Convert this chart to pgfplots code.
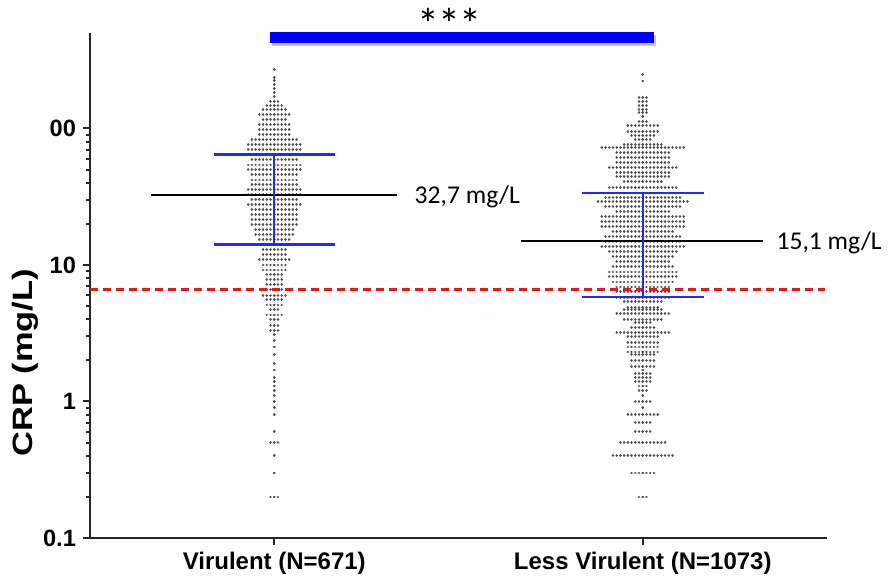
\documentclass[border=0pt]{standalone}
\usepackage{pgfplots}
\pgfplotsset{compat=1.18}
\usepackage{pgfplotstable}
\usepackage{fontspec}
\setmainfont{Carlito}
\setsansfont{Liberation Sans}
\usepackage{graphicx}
\definecolor{dotc}{gray}{0.3}
\definecolor{iqr}{rgb}{0.15,0.15,1}
\definecolor{redl}{rgb}{0.9,0.1,0.1}

% CRP swarm rows: value (mg/L) and half-width of the row (in px of the original)
\pgfplotstableread{
v hw
270 1.9
236 0.3
225 1.9
210 1.9
196 0.3
183 1.9
171 1.9
158 3.75
147 9
138 13
126 15
116 14
107 15
98 16
90 15
83 25
76 28
70 27
64 30
59 25
54 27
50 28
46 26
42 25
39 25
35.6 27
32.7 27
30.1 25
27.7 27
25.4 24
23.4 26
21.5 24
19.7 25
18.1 22
16.7 21
15.3 18
14.1 18
12.9 14
11.9 13
10.9 16
10.0 14
9.2 13
8.5 11
7.8 11
7.2 9
6.6 10
6.0 12
5.6 10
5.1 8
4.7 7
4.3 9
4.0 6
3.6 5
3.3 3.75
3.1 1.9
2.8 0.3
2.5 1.9
2.2 1.9
1.9 1.9
1.7 1.9
1.5 0.3
1.4 1.9
1.3 0.3
1.2 0.3
1.1 1.9
1.0 0.3
0.9 0.3
0.8 0.3
0.6 1.9
0.5 3.75
0.4 1.9
0.3 0.3
0.2 3.75
}\virulent

\pgfplotstableread{
v hw
249 1.9
222 0.3
169 3.75
158 3.75
147 7
138 6
131 5
122 1.9
112 3.75
105 16
95 17
88.7 12
83 11
76 20
72.4 42
66.6 28
61.2 29
56.2 28
51.7 37
47.5 27
44.4 27
40.8 20
36.8 37
33.7 25
31.1 38
29.1 46
26.7 40
24.6 27
22.6 41
20.7 44
19.1 41
17.5 33
16.1 38
14.8 40
13.6 42
12.5 35
11.5 30
10.6 27
9.7 32
8.9 35
8.2 37
7.5 30
6.9 27
6.4 27
5.8 27
5.37 20
4.9 17
4.7 19
4.4 28
4.0 22
3.8 11
3.5 12
3.2 29
3.0 15
2.7 17
2.5 17
2.3 17
2.2 14
2.0 13
1.8 12
1.7 1.9
1.6 7.45
1.5 7.45
1.4 7.45
1.3 5.6
1.2 5.6
1.1 1.9
1.0 11.15
0.9 1.9
0.8 16.7
0.7 9.3
0.6 9.3
0.5 25.95
0.4 33.35
0.3 13.0
0.2 5.6
}\lessvirulent

\begin{document}
\begin{tikzpicture}
\begin{axis}[
  scale only axis, width=368.5pt, height=252.5pt,
  ymode=log, ymin=0.1, ymax=500,
  xmin=0.5, xmax=2.5,
  axis x line=bottom, axis y line=left,
  axis line style={-, line width=1.3pt, black!85},
  xtick={1,2}, xticklabels={Virulent (N=671), Less Virulent (N=1073)},
  ytick={0.1,1,10,100}, yticklabels={0.1,1,10,00},
  tick align=outside,
  major tick length=3.5pt, minor tick length=2pt,
  every tick/.style={black!85, line width=1pt},
  x tick label style={font=\sffamily\bfseries\fontsize{12}{14}\selectfont},
  y tick label style={font=\sffamily\bfseries\fontsize{11.8}{13}\selectfont},
  ylabel={\scalebox{1.23}[1]{CRP (mg/L)}},
  every axis y label/.style={at={(axis description cs:-0.088,0.347)}, rotate=90, anchor=center, font=\sffamily\bfseries\fontsize{14}{16}\selectfont},
  clip=false,
]
\coordinate (sw) at (rel axis cs:0,0);
\coordinate (ne) at (rel axis cs:1,1);

% beeswarm rows
\addplot[draw=none, mark=none, forget plot,
  error bars/.cd, x dir=both, x explicit, error mark=none,
  error bar style={draw=dotc, line width=1.35pt, line cap=round, dash pattern=on 0.01pt off 1.85pt}]
  table[x expr=1, y=v, x error expr=\thisrow{hw}/368.5] {\virulent};
\addplot[draw=none, mark=none, forget plot,
  error bars/.cd, x dir=both, x explicit, error mark=none,
  error bar style={draw=dotc, line width=1.35pt, line cap=round, dash pattern=on 0.01pt off 1.85pt}]
  table[x expr=2, y=v, x error expr=\thisrow{hw}/368.5] {\lessvirulent};

% threshold
\addplot[redl, line width=1.2pt, dash pattern=on 4pt off 2.5pt] coordinates {(0.5,6.6) (2.495,6.6)};

% medians and IQR
\addplot[black, line width=1pt] coordinates {(0.666,32.7) (1.334,32.7)};
\addplot[iqr, line width=1.2pt] coordinates {(0.836,64.3) (1.164,64.3)};
\addplot[iqr, line width=1.2pt] coordinates {(0.836,14.1) (1.164,14.1)};
\addplot[iqr, line width=1.2pt] coordinates {(1,14.1) (1,64.3)};

\addplot[black, line width=1pt] coordinates {(1.670,15.1) (2.326,15.1)};
\addplot[iqr, line width=1.2pt] coordinates {(1.8345,33.7) (2.1655,33.7)};
\addplot[iqr, line width=1.2pt] coordinates {(1.8345,5.81) (2.1655,5.81)};
\addplot[iqr, line width=1.2pt] coordinates {(2,5.81) (2,33.7)};

\node[anchor=west, inner xsep=0pt, font=\fontsize{12.8}{15}\selectfont] at (axis cs:1.38,31.5) {32,7 mg/L};
\node[anchor=west, inner xsep=0pt, font=\fontsize{12.8}{15}\selectfont] at (axis cs:2.362,14.6) {15,1 mg/L};

% significance bar
\addplot[black!22, line width=5.5pt, xshift=1.2pt, yshift=-1.5pt] coordinates {(0.988,460) (2.03,460)};
\addplot[blue, line width=5.5pt] coordinates {(0.988,460) (2.03,460)};
\node[font=\fontsize{22}{24}\selectfont, inner sep=0pt, anchor=base] at (axis cs:1.475,445) {*\kern-0.6pt*\kern-0.6pt*};
\end{axis}
\pgfresetboundingbox
\path ([shift={(-45pt,-19pt)}]sw) rectangle ([shift={(31pt,16.5pt)}]ne);
\end{tikzpicture}
\end{document}
